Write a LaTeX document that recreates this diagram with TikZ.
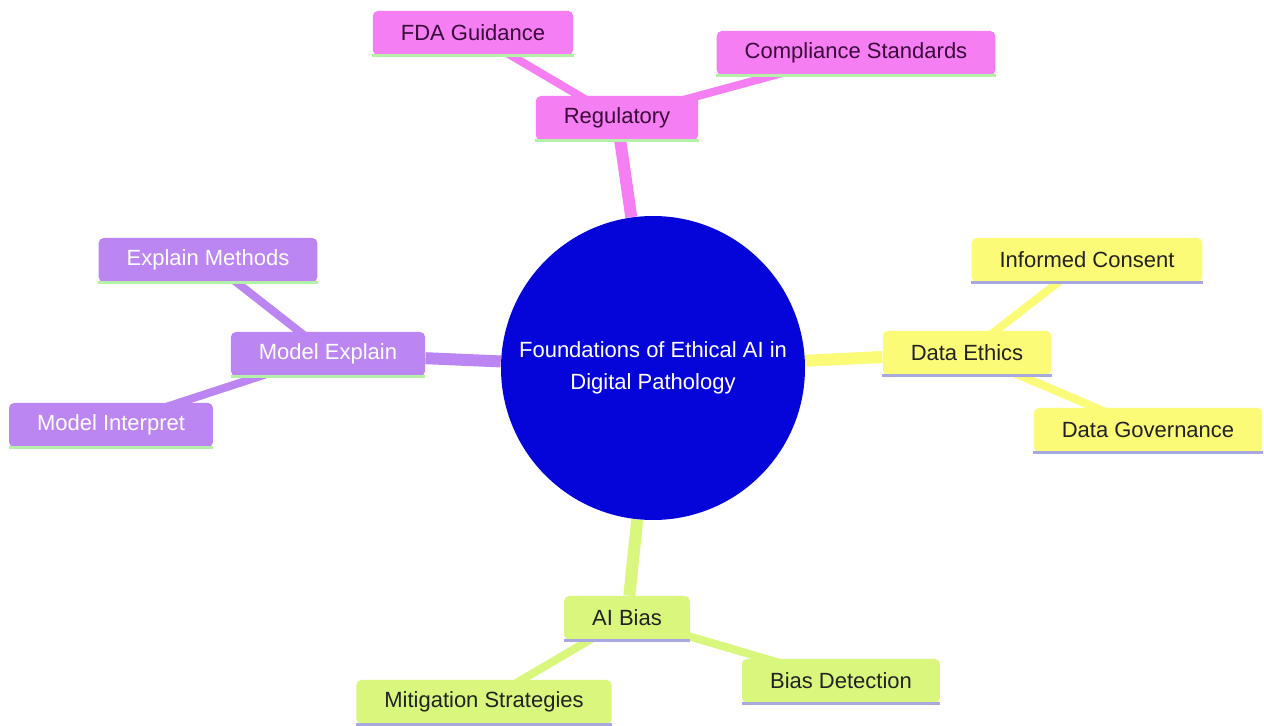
\documentclass[tikz,border=0pt]{standalone}
\usepackage{fontspec}
\setmainfont{Liberation Sans}
\usepackage{xcolor}
\usetikzlibrary{backgrounds}
\definecolor{rootblue}{HTML}{0505DA}
\definecolor{pinksec}{HTML}{F47EF2}
\definecolor{purplesec}{HTML}{BC86F2}
\definecolor{yellowsec}{HTML}{FBFB78}
\definecolor{greensec}{HTML}{D8F77C}
\definecolor{pinktext}{HTML}{3A0A3A}
\definecolor{darktext}{HTML}{222222}
\definecolor{mintline}{HTML}{B4F0A8}
\definecolor{lavline}{HTML}{A8A8E0}
\tikzstyle{topic} = [rectangle, rounded corners=2.5pt, minimum height=22pt, inner xsep=14pt, text centered, font=\fontsize{11}{13}\selectfont]
\tikzstyle{regbox} = [topic, fill=pinksec, text=pinktext]
\tikzstyle{explbox} = [topic, fill=purplesec, text=white]
\tikzstyle{databox} = [topic, fill=yellowsec, text=darktext]
\tikzstyle{biasbox} = [topic, fill=greensec, text=darktext]
\tikzstyle{branch} = [line width=6pt]
\tikzstyle{twig} = [line width=4pt]
\tikzstyle{baseline} = [line width=1.5pt]

\begin{document}
\begin{tikzpicture}[x=0.5pt, y=-0.5pt]
    \useasboundingbox (0,0) rectangle (1264,726);
    \node (root) [circle, fill=rootblue, minimum size=152pt, text=white, align=center, font=\fontsize{11}{16}\selectfont] at (653,368) {Foundations of Ethical AI in\\Digital Pathology};
    % regulatory
    \node (reg) [regbox] at (617,118) {Regulatory};
    \node (fda) [regbox] at (473,33) {FDA Guidance};
    \node (comp) [regbox] at (856,53) {Compliance Standards};
    % model explain
    \node (mexp) [explbox] at (328,354) {Model Explain};
    \node (emeth) [explbox] at (208,260) {Explain Methods};
    \node (minter) [explbox] at (111,425) {Model Interpret};
    % data ethics
    \node (deth) [databox] at (967,353) {Data Ethics};
    \node (cons) [databox] at (1087,260) {Informed Consent};
    \node (gov) [databox] at (1148,430) {Data Governance};
    % ai bias
    \node (bias) [biasbox] at (627,618) {AI Bias};
    \node (mitig) [biasbox] at (484,702) {Mitigation Strategies};
    \node (detect) [biasbox] at (841,681) {Bias Detection};
    \begin{pgfonlayer}{background}
        \fill[white] (0,0) rectangle (1264,726);
        \draw[branch, pinksec] (root)--(reg);
        \draw[twig, pinksec] (reg.center)--(fda.center);
        \draw[twig, pinksec] (reg.center)--(comp.center);
        \draw[branch, purplesec] (root)--(mexp);
        \draw[twig, purplesec] (mexp.center)--(emeth.center);
        \draw[twig, purplesec] (mexp.center)--(minter.center);
        \draw[branch, yellowsec] (root)--(deth);
        \draw[twig, yellowsec] (deth.center)--(cons.center);
        \draw[twig, yellowsec] (deth.center)--(gov.center);
        \draw[branch, greensec] (root)--(bias);
        \draw[twig, greensec] (bias.center)--(mitig.center);
        \draw[twig, greensec] (bias.center)--(detect.center);
    \end{pgfonlayer}
    \draw[baseline, mintline] (reg.south west)--(reg.south east);
    \draw[baseline, mintline] (fda.south west)--(fda.south east);
    \draw[baseline, mintline] (comp.south west)--(comp.south east);
    \draw[baseline, mintline] (mexp.south west)--(mexp.south east);
    \draw[baseline, mintline] (emeth.south west)--(emeth.south east);
    \draw[baseline, mintline] (minter.south west)--(minter.south east);
    \draw[baseline, lavline] (deth.south west)--(deth.south east);
    \draw[baseline, lavline] (cons.south west)--(cons.south east);
    \draw[baseline, lavline] (gov.south west)--(gov.south east);
    \draw[baseline, lavline] (bias.south west)--(bias.south east);
    \draw[baseline, lavline] (mitig.south west)--(mitig.south east);
    \draw[baseline, lavline] (detect.south west)--(detect.south east);
\end{tikzpicture}
\end{document}
